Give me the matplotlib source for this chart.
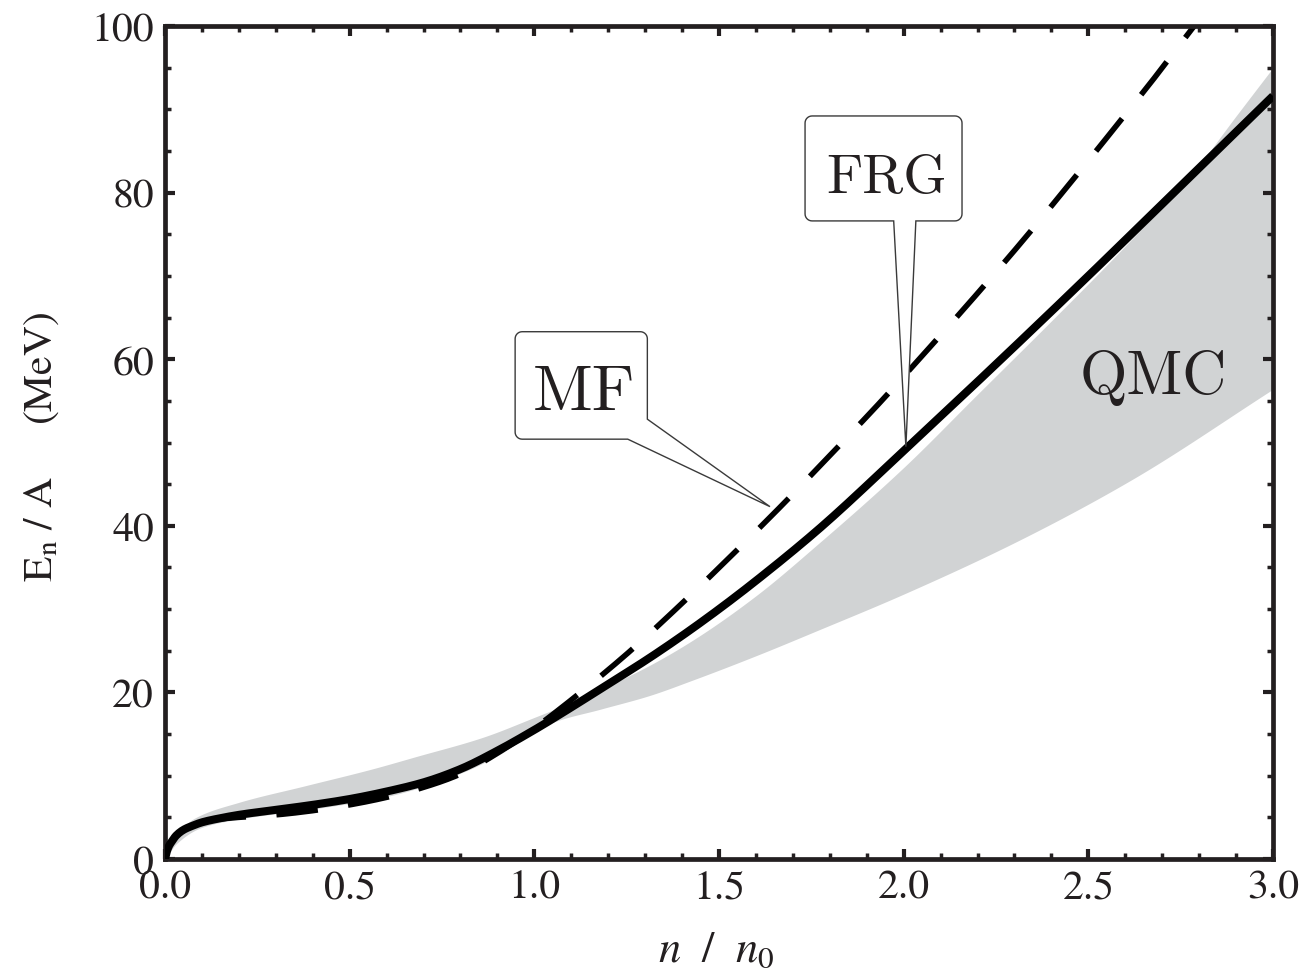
import numpy as np
import matplotlib
matplotlib.use("Agg")
import matplotlib.pyplot as plt
from matplotlib.path import Path
from matplotlib.patches import PathPatch
from matplotlib.transforms import IdentityTransform
from matplotlib.ticker import MultipleLocator, FormatStrFormatter

# ---- data: energy per particle of neutron matter vs density ----
frg_n = [0, 0.005, 0.01, 0.02, 0.03, 0.05, 0.075, 0.1, 0.15, 0.2, 0.3, 0.4,
         0.5, 0.6, 0.7, 0.8, 0.9, 1.0, 1.1, 1.2, 1.3, 1.4, 1.5, 1.6, 1.77,
         2.0, 2.25, 2.5, 2.75, 3.0]
frg_e = [0, 0.9, 1.5, 2.2, 2.8, 3.5, 4.0, 4.4, 4.9, 5.3, 5.9, 6.5,
         7.2, 8.1, 9.2, 10.8, 13.0, 15.5, 18.2, 21.0, 23.8, 26.8, 30.0, 33.4, 39.6,
         49.0, 59.4, 70.0, 80.8, 91.6]

mf_n = [0, 0.005, 0.01, 0.02, 0.03, 0.05, 0.075, 0.1, 0.15, 0.2, 0.3, 0.4,
        0.5, 0.6, 0.7, 0.8, 0.9, 1.0, 1.1, 1.25, 1.4, 1.54, 1.68, 1.81, 1.94,
        2.06, 2.19, 2.32, 2.45, 2.57, 2.69, 2.79]
mf_e = [0, 0.9, 1.5, 2.2, 2.8, 3.5, 4.0, 4.4, 4.8, 5.0, 5.3, 5.8,
        6.5, 7.4, 8.6, 10.2, 12.7, 15.7, 19.1, 24.6, 30.7, 36.7, 42.9, 48.9, 55.0,
        60.9, 67.4, 74.1, 81.1, 87.7, 94.4, 100.2]

qmc_upper_n = [0, 0.01, 0.03, 0.08, 0.2, 0.38, 0.56, 0.68, 0.86, 1.0, 1.1, 1.2,
               1.31, 1.43, 1.6, 1.77, 2.0, 2.2, 2.4, 2.6, 2.78, 2.9, 3.0]
qmc_upper_e = [0, 1.5, 2.9, 4.9, 6.8, 8.8, 10.8, 12.3, 14.6, 17.0, 18.8, 20.8,
               23.2, 26.3, 31.6, 37.9, 47.0, 55.8, 64.6, 73.6, 82.2, 89.2, 95.0]
qmc_lower_n = [0, 0.01, 0.03, 0.1, 0.2, 0.4, 0.6, 0.8, 0.9, 1.0, 1.05, 1.18,
               1.31, 1.43, 1.6, 1.77, 2.0, 2.31, 2.62, 3.0]
qmc_lower_e = [0, 0.6, 1.8, 3.8, 4.8, 6.0, 7.5, 10.3, 12.4, 15.2, 16.4, 18.0,
               19.6, 21.5, 24.4, 27.5, 31.8, 38.2, 45.6, 56.4]

x_ticks = [0.0, 0.5, 1.0, 1.5, 2.0, 2.5, 3.0]
y_ticks = [0, 20, 40, 60, 80, 100]


def pchip(xs, ys, xq):
    """Shape-preserving cubic Hermite curve through the given points."""
    x = np.asarray(xs, float)
    y = np.asarray(ys, float)
    h = np.diff(x)
    d = np.diff(y) / h
    m = np.zeros_like(x)
    m[0], m[-1] = d[0], d[-1]
    for k in range(1, len(x) - 1):
        if d[k - 1] * d[k] > 0:
            w1 = 2 * h[k] + h[k - 1]
            w2 = h[k] + 2 * h[k - 1]
            m[k] = (w1 + w2) / (w1 / d[k - 1] + w2 / d[k])
    i = np.clip(np.searchsorted(x, xq) - 1, 0, len(x) - 2)
    t = (xq - x[i]) / h[i]
    h00 = 2 * t**3 - 3 * t**2 + 1
    h10 = t**3 - 2 * t**2 + t
    h01 = -2 * t**3 + 3 * t**2
    h11 = t**3 - t**2
    return h00 * y[i] + h10 * h[i] * m[i] + h01 * y[i + 1] + h11 * h[i] * m[i + 1]


def dense(xs):
    return np.union1d(np.linspace(xs[0], xs[-1], 800), xs)


# ---- style ----
plt.rcParams["mathtext.fontset"] = "stix"
plt.rcParams["font.family"] = ["STIXGeneral", "DejaVu Serif"]
frame = "#231f20"
band = "#d1d3d4"

fig = plt.figure(figsize=(13.07, 9.70), dpi=100)
ax = fig.add_axes([165 / 1307, 110 / 970, 1108 / 1307, 833 / 970])

nb = np.linspace(0, 3, 1201)
ax.fill_between(nb, pchip(qmc_lower_n, qmc_lower_e, nb),
                pchip(qmc_upper_n, qmc_upper_e, nb),
                color=band, lw=0, zorder=1)
# dashed MF curve, drawn from its upper end so the dash phase starts at the top
xm = dense(mf_n)[::-1]
ax.plot(xm, pchip(mf_n, mf_e, xm), color="black", lw=4.0,
        linestyle=(4.5, (7.5, 5.5)), dash_capstyle="butt", zorder=2)
xf = dense(frg_n)
ax.plot(xf, pchip(frg_n, frg_e, xf), color="black", lw=5.8,
        solid_capstyle="butt", zorder=3)

ax.set_xlim(0, 3)
ax.set_ylim(0, 100)
ax.set_xticks(x_ticks)
ax.set_yticks(y_ticks)
ax.xaxis.set_major_formatter(FormatStrFormatter("%.1f"))
ax.xaxis.set_minor_locator(MultipleLocator(0.1))
ax.yaxis.set_minor_locator(MultipleLocator(5))
ax.tick_params(which="both", direction="in", top=True, right=True,
               color=frame, labelcolor="#231f20", labelsize=30)
ax.tick_params(axis="x", which="both", pad=7)
ax.tick_params(axis="y", which="both", pad=8)
ax.tick_params(which="major", length=7, width=3)
ax.tick_params(which="minor", length=4, width=2.5)
for sp in ax.spines.values():
    sp.set_linewidth(3.4)
    sp.set_color(frame)

ax.set_xlabel(r"$n\ \ /\ \ n_0$", fontsize=32, color="#231f20")
ax.xaxis.label.set_va("baseline")
ax.xaxis.set_label_coords(0.498, -0.122)
ax.set_ylabel(r"E$_\mathrm{n}$ / A     (MeV)", fontsize=30, color="#231f20")
ax.yaxis.label.set_va("center")
ax.yaxis.set_label_coords(-0.111, 0.496)


def callout(ax, x0, y0, x1, y1, tip, base, corner_spike=False, r=7):
    """Rounded label box with a pointed spike towards `tip` (data coords)."""
    T = ax.transData
    X0, Y0 = T.transform((x0, y0))
    X1, Y1 = T.transform((x1, y1))
    TX, TY = T.transform(tip)

    def arc(cx, cy, a0, a1):
        t = np.radians(np.linspace(a0, a1, 8))
        return list(zip(cx + r * np.cos(t), cy + r * np.sin(t)))

    v = [(X0 + r, Y1), (X1 - r, Y1)]
    v += arc(X1 - r, Y1 - r, 90, 0)
    if corner_spike:
        # spike leaves from the lower-right corner
        by = T.transform((x1, base[0]))[1]
        bx = T.transform((base[1], y0))[0]
        v += [(X1, by), (TX, TY), (bx, Y0)]
    else:
        v += [(X1, Y0 + r)]
        v += arc(X1 - r, Y0 + r, 0, -90)
        bx2 = T.transform((base[1], y0))[0]
        bx1 = T.transform((base[0], y0))[0]
        v += [(bx2, Y0), (TX, TY), (bx1, Y0)]
    v += [(X0 + r, Y0)]
    v += arc(X0 + r, Y0 + r, -90, -180)
    v += [(X0, Y1 - r)]
    v += arc(X0 + r, Y1 - r, 180, 90)
    v.append(v[0])
    codes = [Path.MOVETO] + [Path.LINETO] * (len(v) - 2) + [Path.CLOSEPOLY]
    p = PathPatch(Path(v, codes), transform=IdentityTransform(),
                  facecolor="white", edgecolor="#3a3a3a", lw=1.0,
                  zorder=5, clip_on=False, joinstyle="miter")
    ax.add_artist(p)


callout(ax, 0.948, 50.4, 1.306, 63.3, tip=(1.638, 42.3),
        base=(52.8, 1.253), corner_spike=True)
callout(ax, 1.733, 76.6, 2.158, 89.2, tip=(2.006, 49.5),
        base=(1.973, 2.033))

label_font = ["cmr10", "DejaVu Serif"]
ax.text(1.135, 54.0, "MF", fontsize=47, family=label_font, color="#231f20",
        ha="center", va="baseline", zorder=6)
ax.text(1.954, 80.1, "FRG", fontsize=40, family=label_font, color="#231f20",
        ha="center", va="baseline", zorder=6)
ax.text(2.675, 56.0, "QMC", fontsize=44, family=label_font, color="#231f20",
        ha="center", va="baseline", zorder=6)

fig.savefig("out.png", dpi=100)
